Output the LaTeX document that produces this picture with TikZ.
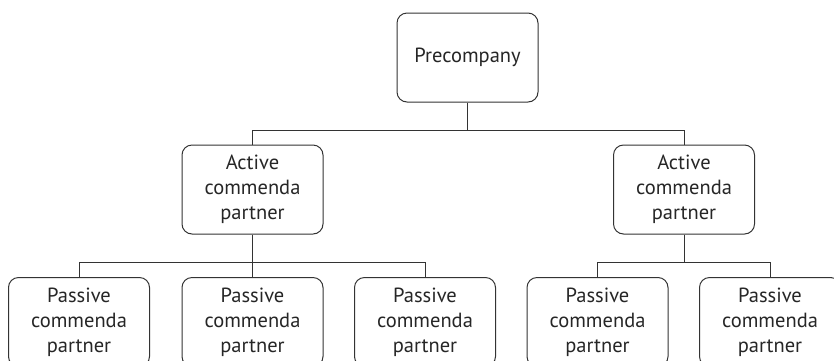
\documentclass[tikz,border=0pt]{standalone}
\usepackage{fontspec}
\setmainfont{PT Sans}
\begin{document}
\begin{tikzpicture}[x=1pt,y=-1pt,
  orgbox/.style={draw=black!80, line width=1pt, rounded corners=10pt,
    minimum width=141pt, minimum height=89pt, align=center,
    text=black!85, font=\fontsize{20.5}{25}\selectfont, inner sep=0pt},
  link/.style={draw=black!80, line width=1pt}]
  \useasboundingbox (0,0) rectangle (834,360);
  \clip (0,0) rectangle (834,360);

  % top level
  \node[orgbox] (pre) at (467.5,57.5) {Precompany};

  % active partners
  \node[orgbox] (actL) at (252.5,189.5) {Active\\commenda\\partner};
  \node[orgbox] (actR) at (684,189.5) {Active\\commenda\\partner};

  % passive partners (taller boxes, running past the lower edge)
  \begin{scope}[every node/.append style={minimum height=96pt}]
    \node[orgbox] (p1) at (79,322) {Passive\\commenda\\partner};
    \node[orgbox] (p2) at (252.5,322) {Passive\\commenda\\partner};
    \node[orgbox] (p3) at (425,322) {Passive\\commenda\\partner};
    \node[orgbox] (p4) at (597.5,322) {Passive\\commenda\\partner};
    \node[orgbox] (p5) at (770,322) {Passive\\commenda\\partner};
  \end{scope}

  % connectors
  \draw[link] (pre.south) |- (252.5,130.5) -- (actL.north);
  \draw[link] (pre.south) |- (684,130.5) -- (actR.north);

  \draw[link] (actL.south) -- (p2.north);
  \draw[link] (actL.south) |- (79,262) -- (p1.north);
  \draw[link] (actL.south) |- (425,262) -- (p3.north);

  \draw[link] (actR.south) |- (597.5,262) -- (p4.north);
  \draw[link] (actR.south) |- (770,262) -- (p5.north);
\end{tikzpicture}
\end{document}
